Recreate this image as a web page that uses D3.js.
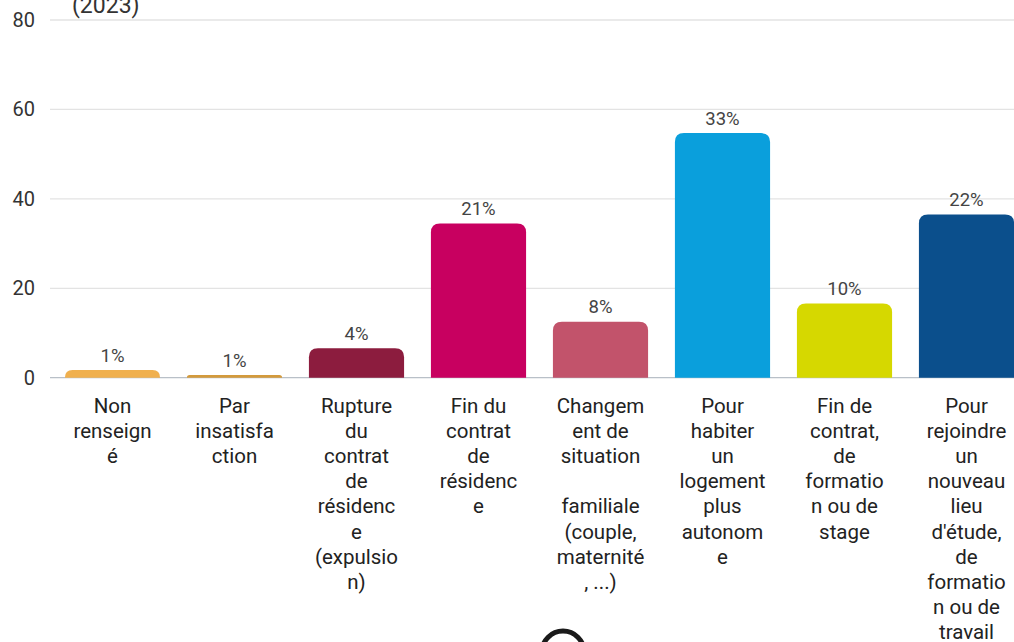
<!DOCTYPE html>
<html>
<head>
<meta charset="utf-8">
<script src="https://cdn.jsdelivr.net/npm/d3@7"></script>
<style>
  body { margin: 0; background: #fff; }
  svg { display: block; font-family: Roboto, "Noto Sans", sans-serif; }
</style>
</head>
<body>
<svg id="chart" width="1014" height="642"></svg>
<script>
// Categories (labels wrapped the same way as in the picture)
let categories = [
  "Non renseigné",
  "Par insatisfaction",
  "Rupture du contrat de résidence (expulsion)",
  "Fin du contrat de résidence",
  "Changement de situation familiale (couple, maternité, ...)",
  "Pour habiter un logement plus autonome",
  "Fin de contrat, de formation ou de stage",
  "Pour rejoindre un nouveau lieu d'étude, de formation ou de travail",
];

let labelLines = [
  ["Non", "renseign", "é"],
  ["Par", "insatisfa", "ction"],
  ["Rupture", "du", "contrat", "de", "résidenc", "e", "(expulsio", "n)"],
  ["Fin du", "contrat", "de", "résidenc", "e"],
  ["Changem", "ent de", "situation", "", "familiale", "(couple,", "maternité", ", ...)"],
  ["Pour", "habiter", "un", "logement", "plus", "autonom", "e"],
  ["Fin de", "contrat,", "de", "formatio", "n ou de", "stage"],
  ["Pour", "rejoindre", "un", "nouveau", "lieu", "d'étude,", "de", "formatio", "n ou de", "travail"],
];

// Values
let values = [1.7, 0.6, 6.6, 34.5, 12.5, 54.7, 16.6, 36.5];
let percentLabels = ["1%", "1%", "4%", "21%", "8%", "33%", "10%", "22%"];

let colors = ["#f0b04e", "#d39a3c", "#8c1c3e", "#c80060", "#c2536b", "#0a9fdc", "#d6d800", "#0b4f8c"];

let yTicks = [0, 20, 40, 60, 80];

let svg = d3.select("#chart");
let width = +svg.attr("width");

let x = d3.scaleBand()
  .domain(categories)
  .range([51.5, 1027.5])
  .paddingInner(0.22)
  .paddingOuter(0.11);

let y = d3.scaleLinear().domain([0, 80]).range([377.7, 20]);

// gridlines
svg.append("g")
  .selectAll("line")
  .data(yTicks)
  .enter()
  .append("line")
  .attr("x1", 50)
  .attr("x2", width)
  .attr("y1", d => y(d))
  .attr("y2", d => y(d))
  .attr("stroke", d => d === 0 ? "#b9c0c8" : "#e3e3e3")
  .attr("stroke-width", 1.3);

// y axis labels
let yAxis = d3.axisLeft(y).tickValues(yTicks).tickSize(0).tickPadding(0);
let gy = svg.append("g").attr("transform", "translate(35,0)").call(yAxis);
gy.select(".domain").remove();
gy.selectAll("text")
  .attr("font-size", 20)
  .attr("fill", "#333")
  .attr("font-family", "Roboto, sans-serif");

// rounded-top bar path
function barPath(x0, w, yTop, yBase) {
  let r = Math.min(9, w / 2, (yBase - yTop));
  if (r < 0.5) return `M${x0},${yBase}V${yTop}H${x0 + w}V${yBase}Z`;
  return `M${x0},${yBase}V${yTop + r}Q${x0},${yTop} ${x0 + r},${yTop}` +
    `H${x0 + w - r}Q${x0 + w},${yTop} ${x0 + w},${yTop + r}V${yBase}Z`;
}

svg.append("g")
  .selectAll("path")
  .data(categories)
  .enter()
  .append("path")
  .attr("d", (d, i) => barPath(x(d), x.bandwidth(), y(values[i]), y(0)))
  .attr("fill", (d, i) => colors[i]);

// value labels
svg.append("g")
  .selectAll("text")
  .data(categories)
  .enter()
  .append("text")
  .attr("x", d => x(d) + x.bandwidth() / 2)
  .attr("y", (d, i) => y(values[i]) - 8.5)
  .attr("text-anchor", "middle")
  .attr("font-size", 18.5)
  .attr("fill", "#444")
  .text((d, i) => percentLabels[i]);

// category labels
let lab = svg.append("g")
  .selectAll("text")
  .data(categories)
  .enter()
  .append("text")
  .attr("text-anchor", "middle")
  .attr("font-size", 20.5)
  .attr("fill", "#222");

lab.each(function (d, i) {
  let t = d3.select(this);
  labelLines[i].forEach((line, k) => {
    t.append("tspan")
      .attr("x", x(d) + x.bandwidth() / 2)
      .attr("y", 413 + k * 25.1)
      .text(line === "" ? "\u00a0" : line);
  });
});

// title, cut off at the top in the original
svg.append("text")
  .attr("x", 72)
  .attr("y", 13)
  .attr("font-size", 23)
  .attr("fill", "#333")
  .text("(2023)");

// partial circle at bottom
svg.append("circle")
  .attr("cx", 563)
  .attr("cy", 652)
  .attr("r", 21)
  .attr("fill", "none")
  .attr("stroke", "#1a1a1a")
  .attr("stroke-width", 5);
</script>
</body>
</html>
